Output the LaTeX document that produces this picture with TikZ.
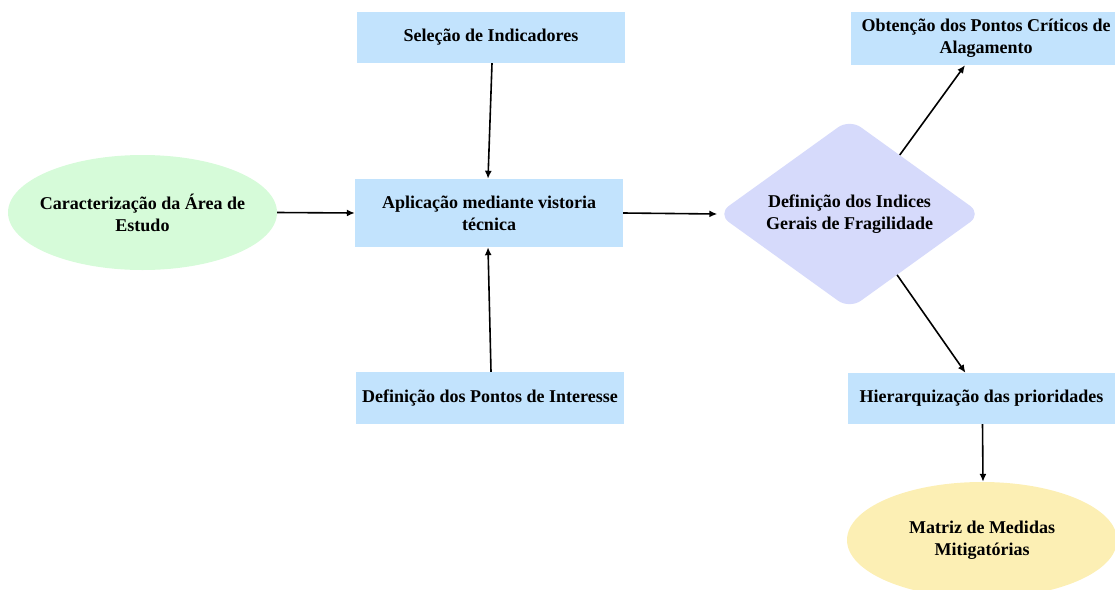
\documentclass[tikz,border=0pt]{standalone}
\usepackage{fontspec}
\setmainfont{Liberation Serif}
\usetikzlibrary{shapes.geometric,arrows.meta,calc}
\definecolor{boxblue}{HTML}{C2E3FD}
\definecolor{ellgreen}{HTML}{D6FBD9}
\definecolor{diamlav}{HTML}{D6DAFB}
\definecolor{ellyellow}{HTML}{FCEFB4}
\tikzset{
  lbl/.style={font=\fontsize{18}{22}\selectfont\bfseries, align=center, text=black},
  bluebox/.style={lbl, rectangle, fill=boxblue, inner sep=0pt},
  ovalnode/.style={lbl, ellipse, inner xsep=-10pt, inner ysep=0pt},
  conn/.style={line width=1.6pt, -{Latex[length=8pt,width=7pt]}},
}
\begin{document}
\begin{tikzpicture}[x=1pt,y=-1pt]
\useasboundingbox (0,0) rectangle (1115,589);
\clip (0,0) rectangle (1115,589);
% nodes
\node[bluebox, minimum width=268pt, minimum height=51pt] (sel) at (491,37.5) {Seleção de Indicadores};
\node[bluebox, minimum width=268pt, minimum height=68pt] (apl) at (489,213) {Aplicação mediante vistoria\\técnica};
\node[bluebox, minimum width=268pt, minimum height=52pt] (pts) at (490,398) {Definição dos Pontos de Interesse};
\node[ovalnode, fill=ellgreen, minimum width=269pt, minimum height=115pt] (car) at (142.5,212.5) {Caracterização da Área de\\Estudo};
\node[lbl, diamond, aspect=1.4, fill=diamlav, rounded corners=14pt, inner sep=0pt, minimum width=264pt, minimum height=190pt] (dia) at (849.5,214) {Definição dos Indices\\Gerais de Fragilidade};
\node[bluebox, minimum width=270pt, minimum height=53pt] (obt) at (986,38.5) {Obtenção dos Pontos Críticos de\\Alagamento};
\node[bluebox, minimum width=267pt, minimum height=51pt] (hie) at (981.5,398.5) {Hierarquização das prioridades};
\node[ovalnode, fill=ellyellow, minimum width=270pt, minimum height=116pt] (mat) at (982,540) {Matriz de Medidas\\Mitigatórias};
% connectors
\draw[conn] ([xshift=1pt]sel.south) -- ([xshift=-1pt]apl.north);
\draw[conn] ([xshift=1pt]pts.north) -- ([xshift=-1pt]apl.south);
\draw[conn] (car.east) -- (apl.west);
\draw[conn] (apl.east) -- (dia.west);
\draw[conn] ($(dia.north)!0.38!(dia.east)$) -- ([xshift=-21pt]obt.south);
\draw[conn] ($(dia.south)!0.36!(dia.east)$) -- ([xshift=-16pt]hie.north);
\draw[conn] ([xshift=1pt]hie.south) -- ([xshift=1pt]mat.north);
\end{tikzpicture}
\end{document}
